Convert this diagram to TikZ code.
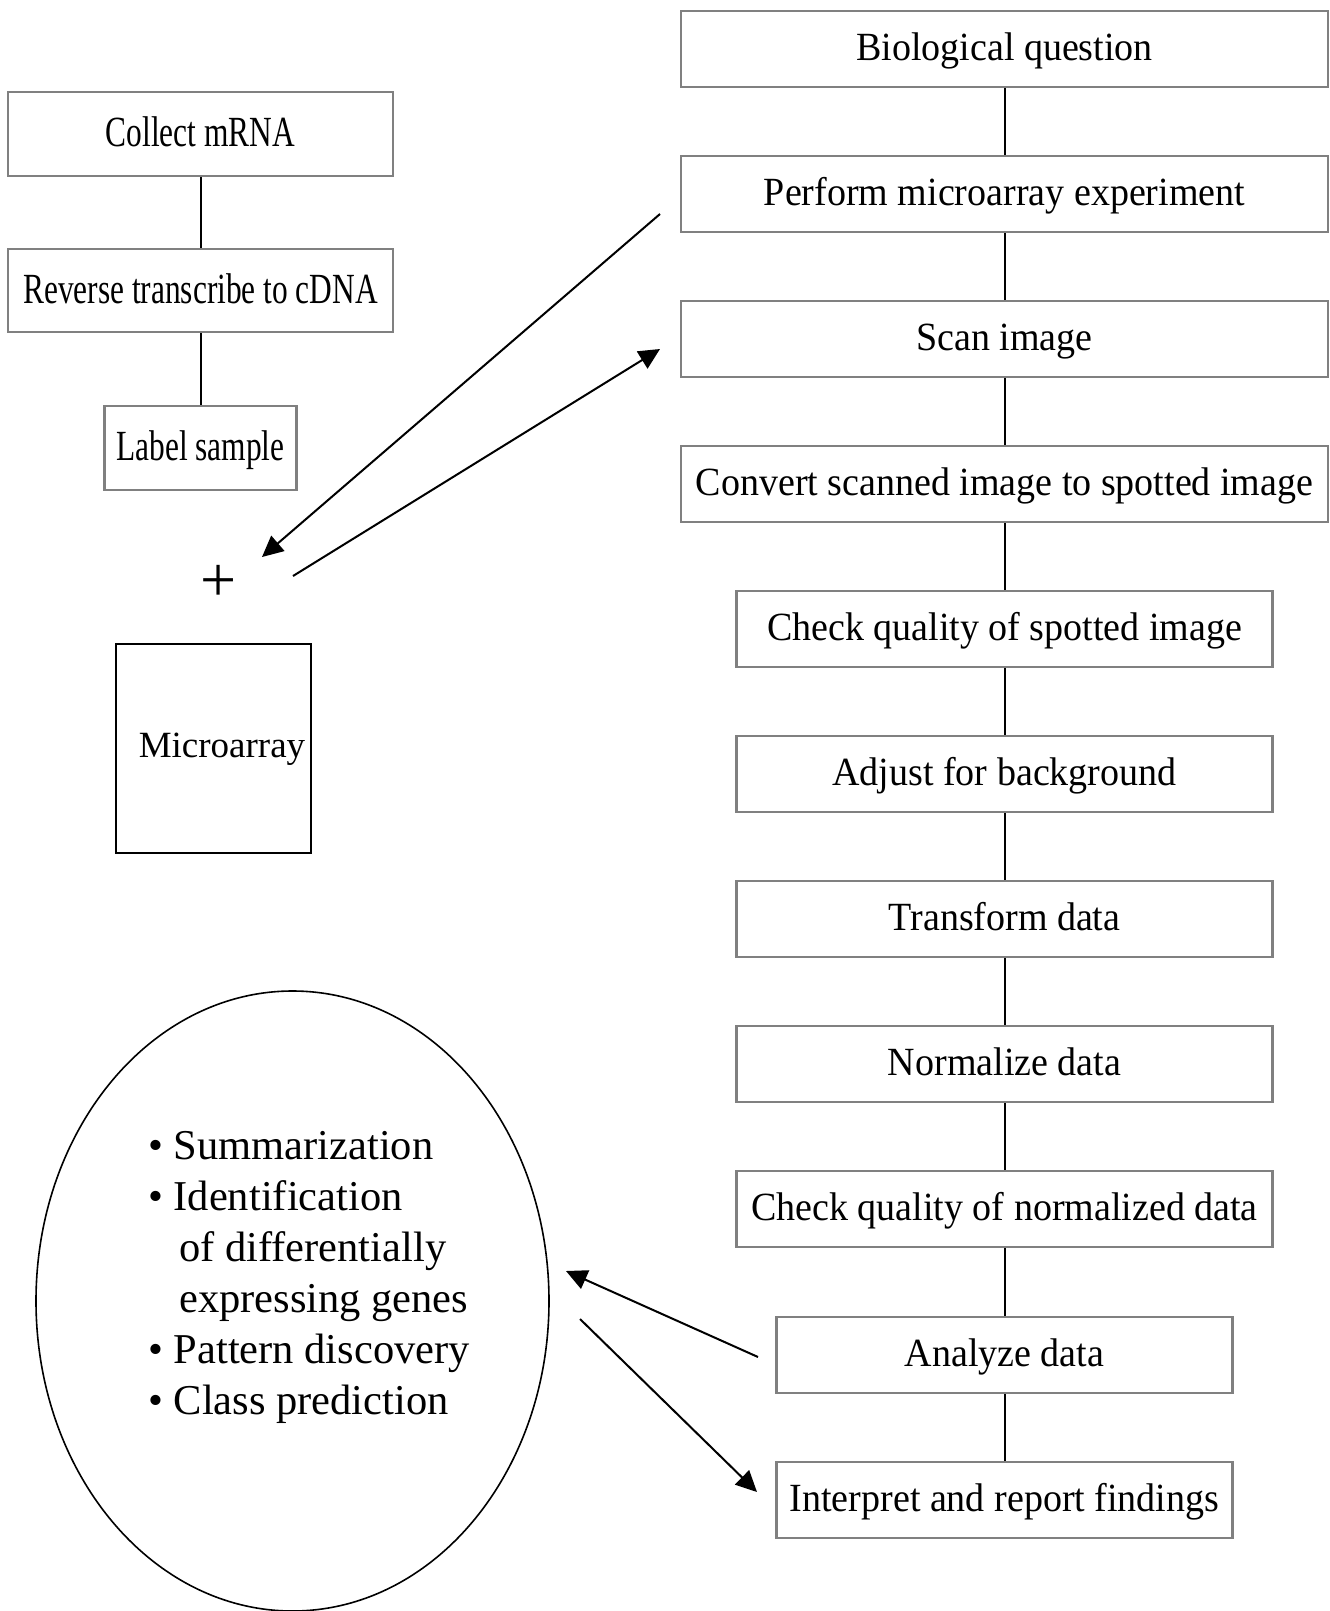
\documentclass[tikz,border=0pt]{standalone}
\usepackage{fontspec}
\setmainfont{Liberation Serif}
\newfontfamily\condf[FakeStretch=0.73]{Liberation Serif}
\newfontfamily\rfont[FakeStretch=0.95]{Liberation Serif}
\usetikzlibrary{shapes.geometric,arrows.meta}
\definecolor{boxgrey}{RGB}{128,128,128}
\begin{document}
\begin{tikzpicture}[x=1pt,y=-1pt,
  rbox/.style={draw=boxgrey, line width=2.5pt, rectangle, inner sep=0pt,
    minimum height=76pt, text height=32pt, text depth=8.6pt,
    font=\rfont\fontsize{40}{48}\selectfont},
  lbox/.style={draw=boxgrey, line width=2.5pt, rectangle, inner sep=0pt,
    minimum height=84pt, text height=34pt, text depth=8.6pt,
    font=\condf\fontsize{43}{50}\selectfont},
  link/.style={line width=2pt},
  arr/.style={line width=2pt, -{Triangle[length=21pt,width=20pt]}}]
\useasboundingbox (0,0) rectangle (1330,1611);

% right column
\node[rbox, minimum width=647pt] (bq) at (1004.5,49) {Biological question};
\node[rbox, minimum width=647pt] (perf) at (1004.5,194) {Perform microarray experiment};
\node[rbox, minimum width=647pt] (scan) at (1004.5,339) {Scan image};
\node[rbox, minimum width=647pt] (conv) at (1004.5,484) {Convert scanned image to spotted image};
\node[rbox, minimum width=536pt] (chk1) at (1004.5,629) {Check quality of spotted image};
\node[rbox, minimum width=536pt] (adj) at (1004.5,774) {Adjust for background};
\node[rbox, minimum width=536pt] (trans) at (1004.5,919) {Transform data};
\node[rbox, minimum width=536pt] (norm) at (1004.5,1064) {Normalize data};
\node[rbox, minimum width=536pt] (chk2) at (1004.5,1209) {Check quality of normalized data};
\node[rbox, minimum width=456pt] (anal) at (1004.5,1355) {Analyze data};
\node[rbox, minimum width=456pt] (interp) at (1004.5,1500) {Interpret and report findings};

\draw[link] (bq) -- (perf);
\draw[link] (perf) -- (scan);
\draw[link] (scan) -- (conv);
\draw[link] (conv) -- (chk1);
\draw[link] (chk1) -- (adj);
\draw[link] (adj) -- (trans);
\draw[link] (trans) -- (norm);
\draw[link] (norm) -- (chk2);
\draw[link] (chk2) -- (anal);
\draw[link] (anal) -- (interp);

% left column
\node[lbox, minimum width=385pt] (collect) at (200.5,134) {Collect mRNA};
\node[lbox, minimum width=385pt, minimum height=83pt] (rev) at (200.5,290.5) {Reverse transcribe to cDNA};
\node[lbox, minimum width=192pt] (lab) at (200.5,448) {Label sample};
\draw[link] (collect) -- (rev);
\draw[link] (rev) -- (lab);

\node[inner sep=0pt, font=\fontsize{64}{70}\selectfont] (plus) at (219,583) {+};

\node[draw=black, line width=2.5pt, rectangle, minimum width=195pt, minimum height=209pt,
  inner sep=0pt, text height=28pt, text depth=11pt,
  font=\fontsize{37}{45}\selectfont] (micro) at (213.5,748.5) {\hspace*{17pt}Microarray};

% ellipse with analyses
\node[draw=black, line width=1.6pt, ellipse, minimum width=513pt, minimum height=620pt,
  inner sep=0pt] (ell) at (292.5,1301) {};
\node[anchor=north west, inner sep=0pt, align=left,
  font=\fontsize{42.5}{51}\selectfont] (bul) at (148,1129)
  {\rule{0pt}{30pt}\textbullet\ Summarization\\
   \textbullet\ Identification\\
   \hspace*{31pt}of differentially\\
   \hspace*{31pt}expressing genes\\
   \textbullet\ Pattern discovery\\
   \textbullet\ Class prediction};

% arrows
\coordinate (a1s) at (660,214);
\coordinate (a1e) at (262,557);
\coordinate (a2s) at (293,576);
\coordinate (a2e) at (660,349);
\coordinate (a3s) at (758,1357);
\coordinate (a3e) at (566,1271);
\coordinate (a4s) at (580,1319);
\coordinate (a4e) at (757,1492);
\draw[arr] (a1s) -- (a1e);
\draw[arr] (a2s) -- (a2e);
\draw[arr] (a3s) -- (a3e);
\draw[arr] (a4s) -- (a4e);
\end{tikzpicture}
\end{document}
